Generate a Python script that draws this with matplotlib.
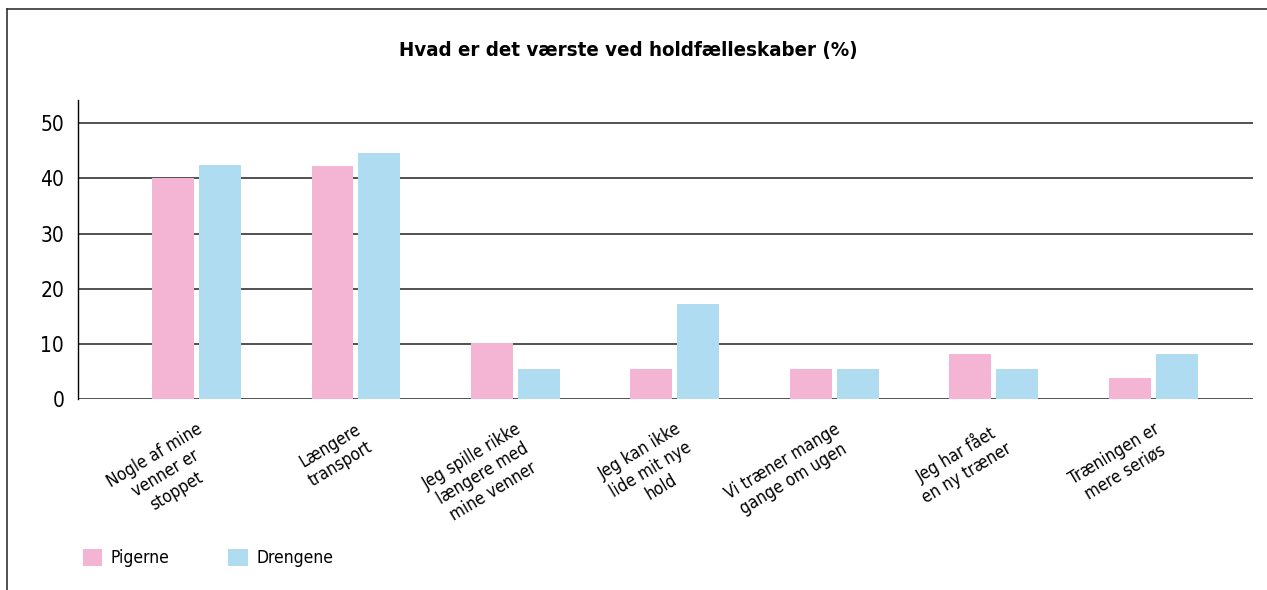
import matplotlib
matplotlib.use('agg')
import matplotlib.pyplot as plt
from matplotlib.lines import Line2D
import numpy as np

categories = ['Nogle af mine\nvenner er\nstoppet',
              'Længere\ntransport',
              'Jeg spille rikke\nlængere med\nmine venner',
              'Jeg kan ikke\nlide mit nye\nhold',
              'Vi træner mange\ngange om ugen',
              'Jeg har fået\nen ny træner',
              'Træningen er\nmere seriøs']
pigerne = [40.1, 42.3, 10.2, 5.4, 5.4, 8.1, 3.8]
drengene = [42.5, 44.6, 5.4, 17.2, 5.4, 5.4, 8.1]

plt.rcParams['font.family'] = ['DejaVu Sans']
plt.rcParams['font.stretch'] = 'condensed'

pink = '#f4b5d5'
blue = '#afdcf0'

fig = plt.figure(figsize=(12.67, 5.90), dpi=100)
ax = fig.add_axes([0.0616, 0.3237, 0.9274, 0.5068])

x = np.arange(len(categories))
w = 0.263
off = 0.147
b1 = ax.bar(x - off, pigerne, w, color=pink, zorder=3, label='Pigerne')
b2 = ax.bar(x + off, drengene, w, color=blue, zorder=3, label='Drengene')

ax.set_xlim(-0.743, 6.627)
ax.set_ylim(0, 54.2)
ax.set_yticks([0, 10, 20, 30, 40, 50])
ax.tick_params(axis='y', length=0, pad=10, labelsize=15)
ax.tick_params(axis='x', length=0, pad=15)
ax.grid(axis='y', color='#333333', linewidth=1.2, zorder=1)
ax.set_axisbelow(True)
for s in ['top', 'right', 'bottom']:
    ax.spines[s].set_visible(False)
ax.spines['left'].set_color('black')
ax.spines['left'].set_linewidth(1.0)

ax.set_xticks(x)
ax.set_xticklabels(categories, rotation=31, ha='right', rotation_mode='anchor',
                   multialignment='center', fontsize=12.3)

fig.text(0.496, 0.915, 'Hvad er det værste ved holdfælleskaber (%)',
         ha='center', va='center', fontsize=14.7, fontweight='bold')

fig.legend(handles=[b1, b2], loc='lower left', bbox_to_anchor=(0.053, 0.012),
           ncol=2, frameon=False, fontsize=12.5, handlelength=1.1, handleheight=1.1,
           handletextpad=0.5, columnspacing=3.4)

# frame lines at top and left
fig.add_artist(Line2D([0.0055, 1.0], [0.985, 0.985], color='#333333', linewidth=1.2))
fig.add_artist(Line2D([0.0055, 0.0055], [0.0, 0.985], color='#333333', linewidth=1.2))

fig.savefig('out.png', dpi=100)
